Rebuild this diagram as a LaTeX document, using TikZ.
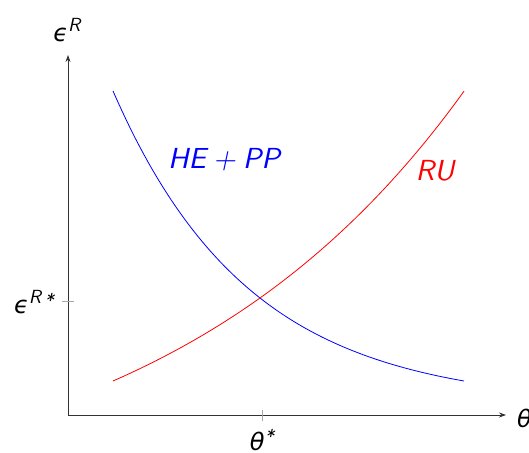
\documentclass[tikz,border=0pt]{standalone}
\usepackage{fontspec}
\usetikzlibrary{arrows.meta}
\newfontfamily\lmsi{lmsans10-oblique.otf}
\newfontfamily\grk{DejaVu Sans}
\newcommand{\gsym}[1]{{\fontsize{24}{28}\selectfont\grk\itshape #1}}
\newcommand{\supr}[1]{\raisebox{10.5pt}{\fontsize{19}{22}\selectfont\lmsi #1}}
\newcommand{\lowast}{\raisebox{-4pt}{*}}
\begin{document}
\begin{tikzpicture}[x=1pt,y=-1pt,
  axis/.style={line width=0.8pt,draw=black!80,-{Stealth[length=7pt,width=5pt]}},
  tickmark/.style={line width=0.5pt,draw=black!35},
  curve/.style={line width=0.8pt},
  lbl/.style={inner sep=0pt},
  clbl/.style={inner sep=0pt,font=\fontsize{29}{34}\selectfont\lmsi}]
\useasboundingbox (0,0) rectangle (529,452);
\coordinate (O) at (68,415);
\coordinate (ytip) at (68,55);
\coordinate (xtip) at (506,415);
\draw[axis] (O) -- (ytip);
\draw[axis] (O) -- (xtip);
\coordinate (ty1) at (62,301);
\coordinate (ty2) at (74,301);
\coordinate (tx1) at (262,410);
\coordinate (tx2) at (262,421);
\draw[tickmark] (ty1) -- (ty2);
\draw[tickmark] (tx1) -- (tx2);
\node[lbl] (eR) at (67,30) {\gsym{ϵ}\supr{R}};
\node[lbl,anchor=east] (eRs) at (54,302) {\gsym{ϵ}\supr{R\,\lowast}};
\node[lbl] (ts) at (262,440) {\gsym{θ}\supr{\lowast}};
\node[lbl,anchor=west] (th) at (517,418) {\gsym{θ}};
\draw[curve,blue] plot[domain=0:351,samples=80,variable=\t] ({113+\t},{415-314*exp(-0.007325*\t)-10});
\draw[curve,red] plot[domain=0:351,samples=80,variable=\t] ({113+\t},{415-134*exp(0.003282*\t)+100});
\node[clbl,text=blue] (hepp) at (224,160) {HE\hspace{0.25em}+\hspace{0.25em}PP};
\node[clbl,text=red] (ru) at (435,171) {RU};
\end{tikzpicture}
\end{document}
